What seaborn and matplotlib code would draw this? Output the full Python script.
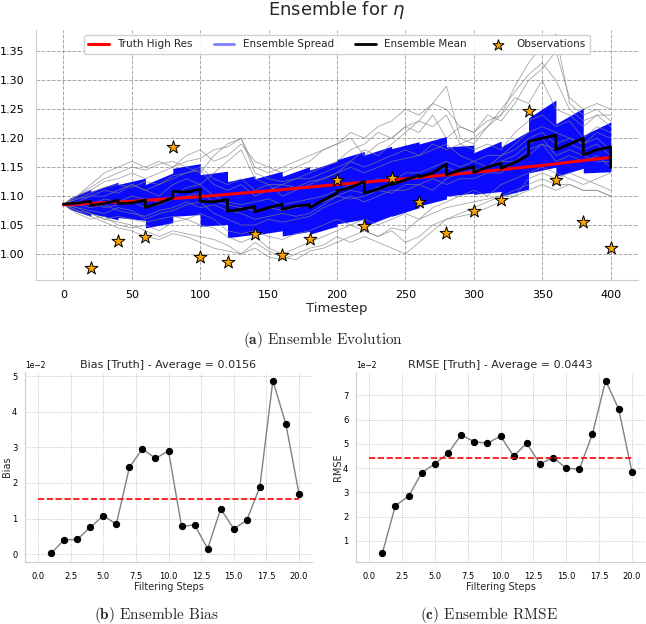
import numpy as np
import pandas as pd
import seaborn as sns
import matplotlib.pyplot as plt

# ---- top panel data ----
truth_t = [0, 50, 100, 150, 200, 250, 300, 350, 400]
truth_eta = [1.085, 1.091, 1.099, 1.109, 1.120, 1.130, 1.141, 1.153, 1.167]

obs_t = [20, 40, 60, 80, 100, 120, 140, 160, 180, 200,
         220, 240, 260, 280, 300, 320, 340, 360, 380, 400]
obs_eta = [0.975, 1.023, 1.030, 1.184, 0.995, 0.986, 1.034, 0.999, 1.025, 1.127,
           1.048, 1.132, 1.089, 1.037, 1.075, 1.093, 1.247, 1.127, 1.055, 1.011]

# ensemble mean: forecast value before each analysis, then analysis value
mean_t = [0, 10, 20, 20, 30, 40, 40, 50, 60, 60, 70, 80, 80, 90, 100, 100,
          110, 120, 120, 130, 140, 140, 150, 160, 160, 170, 180, 180, 190, 200, 200,
          210, 220, 220, 230, 240, 240, 250, 260, 260, 270, 280, 280, 290, 300, 300,
          310, 320, 320, 330, 340, 340, 350, 360, 360, 370, 380, 380, 390, 400, 400]
mean_eta = [1.086, 1.088, 1.091, 1.084, 1.087, 1.093, 1.087, 1.088, 1.093, 1.080,
            1.088, 1.097, 1.108, 1.107, 1.112, 1.091, 1.090, 1.094, 1.074, 1.077,
            1.082, 1.073, 1.080, 1.086, 1.077, 1.083, 1.085, 1.080, 1.093, 1.105,
            1.109, 1.115, 1.125, 1.105, 1.112, 1.122, 1.120, 1.128, 1.136, 1.133,
            1.140, 1.155, 1.137, 1.145, 1.151, 1.141, 1.150, 1.157, 1.148, 1.158,
            1.171, 1.194, 1.200, 1.205, 1.180, 1.190, 1.200, 1.171, 1.180, 1.185,
            1.149]

# ensemble spread envelope
band_t = [0, 5, 20, 20, 40, 40, 60, 60, 80, 80, 100, 100, 120, 120, 140, 140,
          160, 160, 180, 180, 200, 200, 220, 220, 240, 240, 260, 260, 280, 280,
          300, 300, 320, 320, 340, 340, 360, 360, 380, 380, 400]
band_hi = [1.086, 1.097, 1.112, 1.108, 1.124, 1.120, 1.131, 1.120, 1.140, 1.148,
           1.156, 1.137, 1.143, 1.125, 1.135, 1.130, 1.143, 1.134, 1.151, 1.145,
           1.160, 1.163, 1.177, 1.171, 1.186, 1.182, 1.194, 1.190, 1.203, 1.185,
           1.188, 1.175, 1.195, 1.185, 1.212, 1.235, 1.266, 1.225, 1.252, 1.205,
           1.228]
band_lo = [1.086, 1.077, 1.065, 1.070, 1.059, 1.063, 1.058, 1.045, 1.054, 1.065,
           1.068, 1.048, 1.051, 1.028, 1.034, 1.033, 1.040, 1.031, 1.039, 1.034,
           1.048, 1.052, 1.060, 1.048, 1.066, 1.065, 1.080, 1.083, 1.095, 1.100,
           1.105, 1.103, 1.108, 1.100, 1.112, 1.140, 1.150, 1.134, 1.148, 1.140,
           1.142]

# individual ensemble members, every 10 timesteps
member_a = [1.086, 1.100, 1.115, 1.130, 1.140, 1.150, 1.145, 1.155, 1.160, 1.150,
            1.140, 1.170, 1.190, 1.200, 1.150, 1.140, 1.150, 1.160, 1.170, 1.180,
            1.190, 1.200, 1.170, 1.190, 1.200, 1.220, 1.210, 1.240, 1.200, 1.220,
            1.210, 1.230, 1.240, 1.270, 1.260, 1.300, 1.250, 1.240, 1.220, 1.240, 1.220]
member_b = [1.086, 1.075, 1.065, 1.055, 1.045, 1.040, 1.030, 1.025, 1.035, 1.030,
            1.020, 1.010, 1.005, 1.000, 1.020, 1.005, 0.995, 0.990, 1.005, 1.010,
            1.020, 1.030, 1.040, 1.030, 1.045, 1.040, 1.060, 1.070, 1.080, 1.085,
            1.090, 1.095, 1.100, 1.110, 1.120, 1.130, 1.120, 1.120, 1.110, 1.110, 1.100]
member_c = [1.086, 1.095, 1.100, 1.110, 1.105, 1.120, 1.110, 1.120, 1.130, 1.140,
            1.150, 1.130, 1.120, 1.130, 1.110, 1.120, 1.120, 1.130, 1.130, 1.140,
            1.150, 1.160, 1.150, 1.160, 1.170, 1.180, 1.170, 1.190, 1.180, 1.190,
            1.180, 1.190, 1.180, 1.210, 1.230, 1.240, 1.220, 1.230, 1.200, 1.220, 1.210]
member_d = [1.086, 1.080, 1.075, 1.070, 1.080, 1.075, 1.060, 1.070, 1.075, 1.085,
            1.090, 1.070, 1.060, 1.050, 1.050, 1.060, 1.055, 1.060, 1.065, 1.080,
            1.090, 1.100, 1.090, 1.100, 1.110, 1.110, 1.120, 1.130, 1.120, 1.130,
            1.130, 1.140, 1.140, 1.160, 1.180, 1.190, 1.160, 1.170, 1.160, 1.170, 1.150]
member_e = [1.086, 1.090, 1.100, 1.100, 1.110, 1.120, 1.110, 1.100, 1.120, 1.130,
            1.120, 1.140, 1.160, 1.180, 1.130, 1.120, 1.100, 1.110, 1.120, 1.130,
            1.140, 1.160, 1.180, 1.170, 1.190, 1.210, 1.230, 1.260, 1.290, 1.200,
            1.190, 1.220, 1.240, 1.290, 1.330, 1.360, 1.380, 1.260, 1.240, 1.250, 1.230]
member_f = [1.086, 1.070, 1.060, 1.065, 1.050, 1.045, 1.050, 1.040, 1.055, 1.060,
            1.050, 1.045, 1.030, 1.020, 1.030, 1.010, 1.000, 1.010, 1.020, 1.030,
            1.040, 1.050, 1.060, 1.050, 1.060, 1.070, 1.060, 1.080, 1.090, 1.100,
            1.110, 1.100, 1.120, 1.130, 1.140, 1.150, 1.140, 1.130, 1.120, 1.130, 1.140]
member_g = [1.086, 1.090, 1.085, 1.095, 1.090, 1.100, 1.095, 1.090, 1.100, 1.115,
            1.120, 1.100, 1.090, 1.085, 1.090, 1.095, 1.085, 1.090, 1.095, 1.100,
            1.110, 1.120, 1.120, 1.130, 1.125, 1.140, 1.140, 1.150, 1.160, 1.150,
            1.160, 1.150, 1.170, 1.180, 1.200, 1.210, 1.190, 1.200, 1.190, 1.200, 1.180]
member_h = [1.086, 1.100, 1.120, 1.140, 1.150, 1.160, 1.150, 1.160, 1.150, 1.170,
            1.180, 1.160, 1.170, 1.190, 1.160, 1.150, 1.140, 1.150, 1.160, 1.180,
            1.190, 1.210, 1.200, 1.220, 1.230, 1.250, 1.240, 1.260, 1.250, 1.220,
            1.210, 1.240, 1.230, 1.260, 1.300, 1.320, 1.350, 1.270, 1.250, 1.260, 1.250]
member_i = [1.086, 1.080, 1.070, 1.060, 1.065, 1.060, 1.055, 1.060, 1.065, 1.060,
            1.070, 1.060, 1.040, 1.035, 1.040, 1.030, 1.025, 1.035, 1.040, 1.050,
            1.060, 1.050, 1.040, 1.030, 1.040, 1.020, 1.030, 1.050, 1.060, 1.070,
            1.080, 1.090, 1.100, 1.100, 1.130, 1.140, 1.130, 1.140, 1.130, 1.120, 1.110]
member_j = [1.086, 1.095, 1.105, 1.115, 1.120, 1.115, 1.125, 1.120, 1.135, 1.140,
            1.145, 1.120, 1.110, 1.120, 1.100, 1.110, 1.120, 1.115, 1.125, 1.130,
            1.140, 1.150, 1.140, 1.150, 1.160, 1.165, 1.170, 1.180, 1.190, 1.170,
            1.160, 1.170, 1.170, 1.190, 1.210, 1.220, 1.210, 1.200, 1.190, 1.210, 1.200]
member_k = [1.086, 1.085, 1.080, 1.085, 1.075, 1.070, 1.065, 1.075, 1.080, 1.090,
            1.080, 1.085, 1.075, 1.070, 1.060, 1.065, 1.070, 1.065, 1.070, 1.085,
            1.100, 1.095, 1.100, 1.110, 1.105, 1.120, 1.120, 1.110, 1.130, 1.140,
            1.140, 1.150, 1.160, 1.170, 1.190, 1.200, 1.170, 1.180, 1.170, 1.160, 1.160]
member_l = [1.086, 1.075, 1.070, 1.060, 1.055, 1.050, 1.040, 1.030, 1.040, 1.035,
            1.030, 1.025, 1.015, 1.000, 1.010, 0.995, 0.990, 1.000, 1.010, 1.015,
            1.030, 1.020, 1.030, 1.020, 1.010, 1.000, 1.020, 1.040, 1.060, 1.065,
            1.070, 1.080, 1.090, 1.100, 1.110, 1.120, 1.110, 1.120, 1.110, 1.110, 1.100]
member_m = [1.086, 1.100, 1.110, 1.125, 1.130, 1.140, 1.130, 1.140, 1.150, 1.160,
            1.165, 1.180, 1.185, 1.200, 1.140, 1.130, 1.125, 1.130, 1.140, 1.150,
            1.160, 1.180, 1.190, 1.210, 1.200, 1.220, 1.230, 1.220, 1.240, 1.190,
            1.200, 1.220, 1.250, 1.280, 1.310, 1.330, 1.300, 1.250, 1.230, 1.240, 1.240]
member_n = [1.086, 1.085, 1.090, 1.080, 1.085, 1.090, 1.080, 1.085, 1.095, 1.100,
            1.105, 1.090, 1.085, 1.080, 1.075, 1.080, 1.075, 1.080, 1.085, 1.090,
            1.100, 1.110, 1.105, 1.115, 1.120, 1.130, 1.130, 1.140, 1.150, 1.140,
            1.145, 1.150, 1.160, 1.160, 1.170, 1.190, 1.180, 1.190, 1.180, 1.190, 1.170]

top_xticks = [0, 50, 100, 150, 200, 250, 300, 350, 400]
top_yticks = [1.00, 1.05, 1.10, 1.15, 1.20, 1.25, 1.30, 1.35]

# ---- bottom panels data ----
steps = [1, 2, 3, 4, 5, 6, 7, 8, 9, 10, 11, 12, 13, 14, 15, 16, 17, 18, 19, 20]
bias = [0.0002, 0.0040, 0.0041, 0.0075, 0.0108, 0.0084, 0.0244, 0.0296, 0.0269, 0.0290,
        0.0078, 0.0082, 0.0015, 0.0127, 0.0071, 0.0095, 0.0189, 0.0488, 0.0365, 0.0170]
rmse = [0.0049, 0.0246, 0.0284, 0.0381, 0.0418, 0.0461, 0.0537, 0.0509, 0.0503, 0.0532,
        0.0450, 0.0503, 0.0417, 0.0444, 0.0400, 0.0396, 0.0542, 0.0761, 0.0643, 0.0385]
bias_avg = 0.0156
rmse_avg = 0.0443
step_ticks = [0, 2.5, 5, 7.5, 10, 12.5, 15, 17.5, 20]
bias_yticks = [0, 0.01, 0.02, 0.03, 0.04, 0.05]
rmse_yticks = [0.01, 0.02, 0.03, 0.04, 0.05, 0.06, 0.07]

sns.set_style('whitegrid')
plt.rcParams['font.family'] = ['DejaVu Sans']

fig = plt.figure(figsize=(6.46, 6.24), dpi=100)

# ---- (a) ensemble evolution ----
ax = fig.add_axes([0.0557, 0.5513, 0.9319, 0.4006])
member_lists = [member_a, member_b, member_c, member_d, member_e, member_f, member_g,
                member_h, member_i, member_j, member_k, member_l, member_m, member_n]
member_t = np.arange(0, 401, 10)
members = pd.DataFrame({
    'member': np.repeat(np.arange(len(member_lists)), len(member_t)),
    't': np.tile(member_t, len(member_lists)),
    'eta': np.concatenate(member_lists),
})

ax.fill_between(band_t, band_lo, band_hi, color='#0a0aff', lw=0, zorder=2)
sns.lineplot(data=members, x='t', y='eta', units='member', estimator=None,
             color='gray', lw=0.6, alpha=0.7, legend=False, ax=ax, zorder=3)
sns.lineplot(x=truth_t, y=truth_eta, color='red', lw=2.2, label='Truth High Res', ax=ax, zorder=4)
ax.plot([], [], color='blue', alpha=0.5, lw=2, label='Ensemble Spread')
sns.lineplot(x=mean_t, y=mean_eta, estimator=None, sort=False, color='black', lw=2,
             label='Ensemble Mean', ax=ax, zorder=5)
sns.scatterplot(x=obs_t, y=obs_eta, marker='*', s=95, color='orange', edgecolor='black',
                linewidth=0.7, label='Observations', ax=ax, zorder=6)

ax.set_xlim(-20, 420)
ax.set_ylim(0.955, 1.387)
ax.set_xticks(top_xticks)
ax.set_yticks(top_yticks)
ax.set_yticklabels(['{:.2f}'.format(v) for v in top_yticks])
ax.grid(True, ls='--', color='gray', alpha=0.7, lw=0.7)
ax.tick_params(axis='both', labelsize=8, colors='black')
ax.tick_params(axis='y', pad=5)
ax.set_xlabel('Timestep', fontsize=9.5, labelpad=2)
ax.set_ylabel('')
ax.set_title(r'Ensemble for $\eta$', fontsize=13, pad=11)
ax.legend(loc='upper center', ncol=4, fontsize=7.5, framealpha=0.9, markerscale=0.85)
sns.despine(ax=ax)

# ---- (b) bias and (c) rmse ----
panels = [
    ([0.0387, 0.0994, 0.4443, 0.3045], bias, bias_avg, 'Bias', bias_yticks),
    ([0.5511, 0.0994, 0.4474, 0.3045], rmse, rmse_avg, 'RMSE', rmse_yticks),
]
for rect, vals, avg, name, yticks in panels:
    axb = fig.add_axes(rect)
    sns.lineplot(x=steps, y=vals, color='gray', lw=1, marker='o', ms=4.5,
                 mfc='black', mec='black', ax=axb)
    axb.hlines(avg, 0, 20, colors='red', linestyles='--', lw=1.2)
    axb.set_xticks(step_ticks)
    axb.set_yticks(yticks)
    axb.ticklabel_format(axis='y', style='sci', scilimits=(0, 0))
    axb.yaxis.get_offset_text().set_fontsize(5.5)
    axb.grid(True, ls=':', color='0.7', lw=0.6)
    axb.tick_params(axis='both', labelsize=6, colors='black')
    axb.tick_params(axis='y', pad=2)
    axb.set_xlabel('Filtering Steps', fontsize=7, labelpad=1)
    axb.set_ylabel(name, fontsize=7)
    axb.yaxis.set_label_coords(-0.045, 0.5)
    axb.set_title('{} [Truth] - Average = {:.4f}'.format(name, avg), fontsize=8, pad=3)
    sns.despine(ax=axb)

# sub-captions
cap_kw = dict(ha='center', va='center', fontsize=11, family='cmr10', math_fontfamily='cm')
fig.text(323 / 646, 1 - 340 / 624, r'$\mathbf{(a)}$ Ensemble Evolution', **cap_kw)
fig.text(156 / 646, 1 - 615 / 624, r'$\mathbf{(b)}$ Ensemble Bias', **cap_kw)
fig.text(489 / 646, 1 - 615 / 624, r'$\mathbf{(c)}$ Ensemble RMSE', **cap_kw)

fig.savefig('out.png', dpi=100)
